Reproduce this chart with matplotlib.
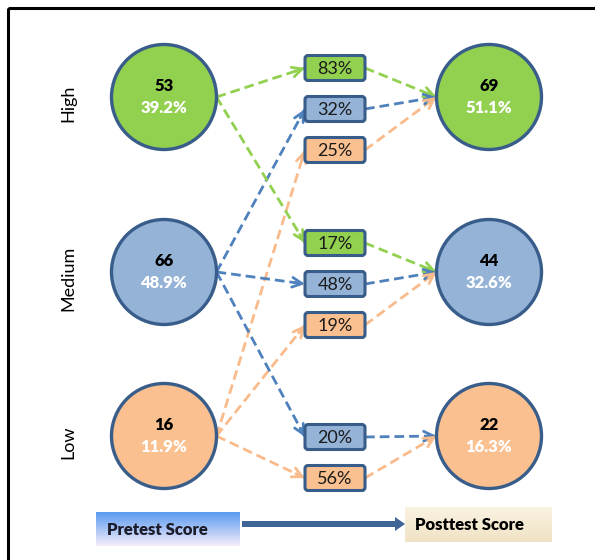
import numpy as np
import matplotlib.pyplot as plt
from matplotlib.patches import Circle, FancyBboxPatch, Rectangle

# score levels and group sizes before / after
levels = ["High", "Medium", "Low"]
pre_counts = [53, 66, 16]
pre_pct = [39.2, 48.9, 11.9]
post_counts = [69, 44, 22]
post_pct = [51.1, 32.6, 16.3]

# transitions: pretest level -> posttest level, share of the pretest group
trans_from = ["High", "Medium", "Low", "High", "Medium", "Low", "Medium", "Low"]
trans_to = ["High", "High", "High", "Medium", "Medium", "Medium", "Low", "Low"]
trans_pct = [83, 32, 25, 17, 48, 19, 20, 56]

fill_colors = {"High": "#92D050", "Medium": "#95B3D7", "Low": "#FAC090"}
line_colors = {"High": "#92D050", "Medium": "#4F81BD", "Low": "#F9BB8C"}
edge_color = "#385D8A"
FONT = ["Lato", "DejaVu Sans"]

# layout in pixel units
W, H = 595, 560
left_x, right_x, radius = 164, 489, 52.5
row_y = {"High": 97, "Medium": 272, "Low": 436}
box_x, box_w, box_h = 305, 60, 25
group_top = {"High": 68, "Medium": 243, "Low": 396}
slot_gap = 41

fig = plt.figure(figsize=(W / 100, H / 100), dpi=100)
ax = fig.add_axes([0, 0, 1, 1])
ax.set_xlim(0, W)
ax.set_ylim(H, 0)
ax.axis("off")

# outer frame
ax.add_patch(Rectangle((8, 8), 620, 620, fill=False, lw=2.2, ec="black"))


def dashed_arrow(p0, p1, color):
    ax.plot([p0[0], p1[0]], [p0[1], p1[1]], color=color, lw=2.0,
            dashes=(3.5, 1.8), solid_capstyle="butt", zorder=2)
    d = np.array(p1, float) - np.array(p0, float)
    d /= np.hypot(*d)
    tail = np.array(p1) - d * 10
    ax.annotate("", xy=p1, xytext=tail,
                arrowprops=dict(arrowstyle="->,head_length=0.7,head_width=0.35",
                                color=color, lw=2.0, shrinkA=0, shrinkB=0),
                zorder=3)


# connectors
for src, dst, pct in zip(trans_from, trans_to, trans_pct):
    slot = levels.index(src)
    by = group_top[dst] + slot * slot_gap
    col = line_colors[src]
    start = (left_x + radius, row_y[src])
    dashed_arrow(start, (box_x, by), col)
    dashed_arrow((box_x + box_w, by), (right_x - radius, row_y[dst]), col)
    ax.add_patch(FancyBboxPatch((box_x + 2, by - box_h / 2 + 2), box_w - 4, box_h - 4,
                                boxstyle="round,pad=2,rounding_size=3",
                                fc=fill_colors[src], ec=edge_color, lw=2.2, zorder=4))
    ax.text(box_x + box_w / 2, by + 1, f"{pct}%", ha="center", va="center",
            fontsize=13, color="#1a1a1a", family=FONT, zorder=5)

# level circles
for i, lvl in enumerate(levels):
    y = row_y[lvl]
    for cx, n, p in ((left_x, pre_counts[i], pre_pct[i]), (right_x, post_counts[i], post_pct[i])):
        ax.add_patch(Circle((cx, y), radius, fc=fill_colors[lvl], ec=edge_color, lw=2.4, zorder=4))
        ax.text(cx, y - 11, f"{n}", ha="center", va="center", fontsize=12,
                fontweight="heavy", color="black", family=FONT, zorder=5)
        ax.text(cx, y + 11, f"{p:.1f}%", ha="center", va="center", fontsize=12,
                fontweight="heavy", color="white", family=FONT, zorder=5)
    ax.text(68, y + 6, lvl, rotation=90, ha="center", va="center", fontsize=13,
            color="black", family=FONT)

# bottom legend: pretest -> posttest
top = np.array([90, 155, 240]) / 255
bot = np.array([245, 236, 250]) / 255
t = np.linspace(0, 1, 64)[:, None, None]
ax.imshow(top + (bot - top) * t, extent=(96, 240, 546, 512), aspect="auto", zorder=1)
top = np.array([250, 243, 226]) / 255
bot = np.array([240, 226, 196]) / 255
ax.imshow(top + (bot - top) * t, extent=(405, 552, 542, 507), aspect="auto", zorder=1)
ax.text(107, 530, "Pretest Score", ha="left", va="center", fontsize=12,
        fontweight="heavy", color="#1c1c2a", family=FONT, zorder=5)
ax.text(415, 525, "Posttest Score", ha="left", va="center", fontsize=12,
        fontweight="heavy", color="black", family=FONT, zorder=5)
ax.arrow(242, 524, 163, 0, width=6, head_width=14, head_length=10,
         length_includes_head=True, fc="#3F6496", ec="none", zorder=3)

ax.set_xlim(0, W)
ax.set_ylim(H, 0)
fig.savefig("out.png", dpi=100)
